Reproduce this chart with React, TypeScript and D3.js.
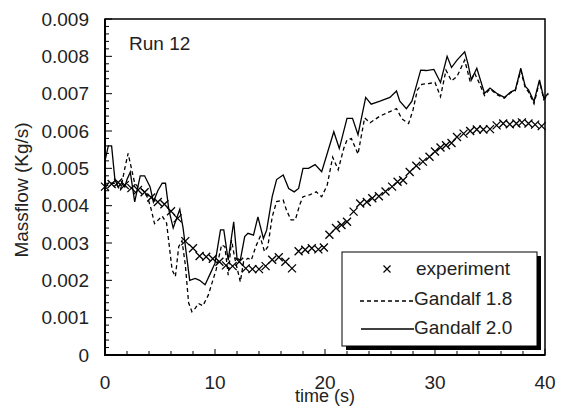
import React from "react";
import * as d3 from "d3";

// experiment (crosses)
const expTime = [0, 0.6, 1.2, 1.8, 2.4, 3.0, 3.6, 4.2, 4.8, 5.4, 6.0, 6.6, 7.3, 8.0, 8.6, 9.2, 9.8, 10.4, 11.0, 11.6, 12.2, 12.8, 13.4, 14.0, 14.6, 15.2, 15.8, 16.4, 17.0, 17.6, 18.2, 18.8, 19.4, 19.9, 20.4, 21.0, 21.5, 22.0, 22.6, 23.2, 23.8, 24.3, 24.9, 25.5, 26.1, 26.6, 27.1, 27.7, 28.3, 28.9, 29.5, 30.0, 30.5, 31.0, 31.5, 32.0, 32.6, 33.2, 33.8, 34.4, 35.0, 35.6, 36.2, 36.8, 37.4, 37.9, 38.5, 39.1, 39.7];
const expFlow = [0.00451, 0.00458, 0.00462, 0.00455, 0.00447, 0.00442, 0.00436, 0.00422, 0.0041, 0.00404, 0.00385, 0.00366, 0.00305, 0.00286, 0.00265, 0.00263, 0.00258, 0.0025, 0.0024, 0.00238, 0.0025, 0.00232, 0.0023, 0.0023, 0.00238, 0.00255, 0.00262, 0.0025, 0.00232, 0.00278, 0.00282, 0.00286, 0.00283, 0.00288, 0.00322, 0.0034, 0.00348, 0.00357, 0.00384, 0.00406, 0.0041, 0.0042, 0.00425, 0.00438, 0.00451, 0.00464, 0.00468, 0.0049, 0.00507, 0.00518, 0.00531, 0.00545, 0.00556, 0.00562, 0.00568, 0.00584, 0.00593, 0.006, 0.00604, 0.00604, 0.00605, 0.00615, 0.0062, 0.00618, 0.0062, 0.00623, 0.0062, 0.00617, 0.00613];

// Gandalf 1.8 (dashed)
const g18Time = [0, 0.5, 1.0, 1.4, 1.8, 2.1, 2.4, 2.7, 3.0, 3.5, 3.9, 4.2, 4.5, 5.2, 5.6, 6.1, 6.4, 6.7, 7.0, 7.3, 7.6, 7.9, 8.2, 8.5, 8.9, 9.4, 9.8, 10.1, 10.6, 10.9, 11.2, 11.5, 11.8, 12.3, 12.6, 13.0, 13.3, 13.7, 14.1, 14.5, 14.8, 15.2, 15.6, 16.2, 16.5, 16.9, 17.3, 17.7, 18.0, 18.6, 19.2, 19.7, 20.2, 20.7, 21.2, 21.7, 22.0, 22.4, 23.0, 23.6, 24.1, 25.0, 25.9, 26.5, 27.0, 27.6, 28.0, 28.4, 28.8, 29.4, 30.0, 30.5, 31.0, 31.5, 32.0, 32.7, 33.2, 33.6, 34.0, 34.5, 35.0, 35.6, 36.3, 36.9, 37.3, 37.8, 38.2, 38.5, 39.0, 39.5, 39.9, 40.3];
const g18Flow = [0.0045, 0.0046, 0.0046, 0.0044, 0.005, 0.0054, 0.005, 0.0046, 0.0045, 0.0044, 0.0042, 0.0039, 0.00352, 0.00372, 0.00353, 0.00228, 0.0021, 0.0029, 0.00306, 0.00242, 0.0014, 0.00116, 0.00125, 0.00138, 0.00132, 0.00161, 0.002, 0.00228, 0.00295, 0.0029, 0.00214, 0.00308, 0.00259, 0.00196, 0.0025, 0.00259, 0.00254, 0.0029, 0.00317, 0.00277, 0.0029, 0.0037, 0.00411, 0.00415, 0.00388, 0.00362, 0.00362, 0.00402, 0.00424, 0.00429, 0.00437, 0.00424, 0.00455, 0.0053, 0.00496, 0.00553, 0.00576, 0.0058, 0.00538, 0.00635, 0.00622, 0.0064, 0.00652, 0.0066, 0.00632, 0.0062, 0.00656, 0.0071, 0.00725, 0.00727, 0.0073, 0.00692, 0.00763, 0.00734, 0.00746, 0.0079, 0.00732, 0.00755, 0.0073, 0.00695, 0.00713, 0.00698, 0.00688, 0.00703, 0.00708, 0.00762, 0.00716, 0.00705, 0.00673, 0.00732, 0.00684, 0.00698];

// Gandalf 2.0 (solid)
const g20Time = [0, 0.3, 0.6, 0.9, 1.2, 1.5, 1.8, 2.0, 2.3, 2.7, 3.2, 3.6, 4.1, 4.4, 4.8, 5.2, 5.5, 5.8, 6.2, 6.8, 7.1, 7.7, 8.2, 8.6, 9.1, 9.6, 10.0, 10.5, 10.8, 11.2, 11.7, 12.0, 12.3, 12.7, 13.0, 13.5, 13.9, 14.4, 14.7, 15.2, 15.6, 16.2, 16.7, 17.2, 17.6, 18.0, 18.5, 19.1, 19.7, 20.8, 21.3, 22.0, 22.5, 23.0, 23.7, 24.2, 25.0, 25.9, 26.5, 26.8, 27.4, 27.9, 28.2, 28.7, 29.2, 29.9, 30.5, 31.1, 31.5, 32.0, 32.7, 33.0, 33.3, 33.8, 34.5, 35.0, 35.6, 36.3, 36.9, 37.3, 37.8, 38.2, 38.5, 39.0, 39.5, 39.9, 40.3];
const g20Flow = [0.0052, 0.0056, 0.0056, 0.0047, 0.0045, 0.0046, 0.0045, 0.0047, 0.0049, 0.0041, 0.0048, 0.0048, 0.0045, 0.0041, 0.0044, 0.0046, 0.0046, 0.0039, 0.0034, 0.0039, 0.0034, 0.002, 0.00205, 0.002, 0.00188, 0.0022, 0.00246, 0.00335, 0.00335, 0.00254, 0.00357, 0.00259, 0.00254, 0.00317, 0.00326, 0.00321, 0.0037, 0.00312, 0.00335, 0.00424, 0.0047, 0.00482, 0.00446, 0.00437, 0.00446, 0.005, 0.005, 0.0051, 0.00491, 0.00598, 0.00553, 0.00634, 0.00634, 0.0059, 0.0069, 0.00672, 0.0068, 0.0069, 0.00707, 0.0068, 0.0066, 0.0068, 0.0071, 0.00763, 0.00762, 0.00765, 0.0073, 0.008, 0.0077, 0.0079, 0.00812, 0.0078, 0.00737, 0.00768, 0.00701, 0.00715, 0.00701, 0.0069, 0.00705, 0.0071, 0.00768, 0.0072, 0.0071, 0.00679, 0.00737, 0.00687, 0.00701];

const xTicks = [0, 10, 20, 30, 40];
const yTicks = [0, 0.001, 0.002, 0.003, 0.004, 0.005, 0.006, 0.007, 0.008, 0.009];
const legendLabels = ["experiment", "Gandalf 1.8", "Gandalf 2.0"];

const W = 567;
const H = 410;
const FONT = "'Liberation Sans', Arial, sans-serif";

const App = () => {
  const x = d3.scaleLinear().domain([0, 40]).range([105, 545]);
  const y = d3.scaleLinear().domain([0, 0.009]).range([355, 19]);

  const line = d3
    .line<[number, number]>()
    .x((d) => x(d[0]))
    .y((d) => y(d[1]));

  const g18 = g18Time.map((t, i) => [t, g18Flow[i]] as [number, number]);
  const g20 = g20Time.map((t, i) => [t, g20Flow[i]] as [number, number]);

  const yMinor = d3.range(0, 46).map((i) => i * 0.0002);
  const xMinor = d3.range(0, 21).map((i) => i * 2);
  const cross = "M-4,-4L4,4M-4,4L4,-4";

  return (
    <svg width={W} height={H} style={{ display: "block", fontFamily: FONT }}>
      <style>{"body{margin:0}"}</style>
      <rect width={W} height={H} fill="#fff" />

      {/* frame */}
      <rect x={105} y={19} width={440} height={336} fill="none" stroke="#000" strokeWidth={1.5} />
      <line x1={105} x2={105} y1={19} y2={356} stroke="#000" strokeWidth={2} />
      <line x1={104} x2={545} y1={355} y2={355} stroke="#000" strokeWidth={2} />

      {/* y ticks */}
      {yMinor.map((v, i) => (
        <line key={"ym" + i} x1={105} x2={105 + (i % 5 === 0 ? 7 : 4)} y1={y(v)} y2={y(v)} stroke="#000" strokeWidth={1} />
      ))}
      {yTicks.map((v) => (
        <text key={"yt" + v} x={89} y={y(v)} dy="0.35em" textAnchor="end" fontSize={19} fill="#222">
          {v === 0 ? "0" : v.toFixed(3)}
        </text>
      ))}

      {/* x ticks */}
      {xMinor.map((v, i) => (
        <line key={"xm" + i} x1={x(v)} x2={x(v)} y1={355} y2={355 - (i % 5 === 0 ? 6 : 4)} stroke="#000" strokeWidth={1} />
      ))}
      {xTicks.map((v) => (
        <text key={"xt" + v} x={x(v)} y={389} textAnchor="middle" fontSize={19} fill="#222">
          {v}
        </text>
      ))}

      <text x={325} y={402} textAnchor="middle" fontSize={18} fill="#222">time (s)</text>
      <text transform="translate(28,190) rotate(-90)" textAnchor="middle" fontSize={19} fill="#222">
        Massflow (Kg/s)
      </text>
      <text x={129} y={50} fontSize={19} fill="#222">Run 12</text>

      {/* series */}
      <path d={line(g18) || ""} fill="none" stroke="#000" strokeWidth={1.3} strokeDasharray="4,3" />
      <path d={line(g20) || ""} fill="none" stroke="#000" strokeWidth={1.3} />
      {expTime.map((t, i) => (
        <path key={"e" + i} d={cross} transform={`translate(${x(t)},${y(expFlow[i])})`} fill="none" stroke="#000" strokeWidth={1.3} />
      ))}

      {/* legend */}
      <rect x={346} y={256} width={195} height={94} fill="#000" />
      <rect x={342} y={252} width={195} height={94} fill="#fff" stroke="#000" strokeWidth={1} />
      <path d="M-3.5,-3.5L3.5,3.5M-3.5,3.5L3.5,-3.5" transform="translate(387,269)" fill="none" stroke="#000" strokeWidth={1.2} />
      <line x1={360} x2={413} y1={301} y2={301} stroke="#000" strokeWidth={1.3} strokeDasharray="4,3" />
      <line x1={361} x2={414} y1={329} y2={329} stroke="#000" strokeWidth={1.3} />
      {legendLabels.map((l, i) => (
        <text key={l} x={i === 0 ? 416 : 414} y={275 + i * 29.5} fontSize={19} fill="#222">
          {l}
        </text>
      ))}
    </svg>
  );
};

export default App;
